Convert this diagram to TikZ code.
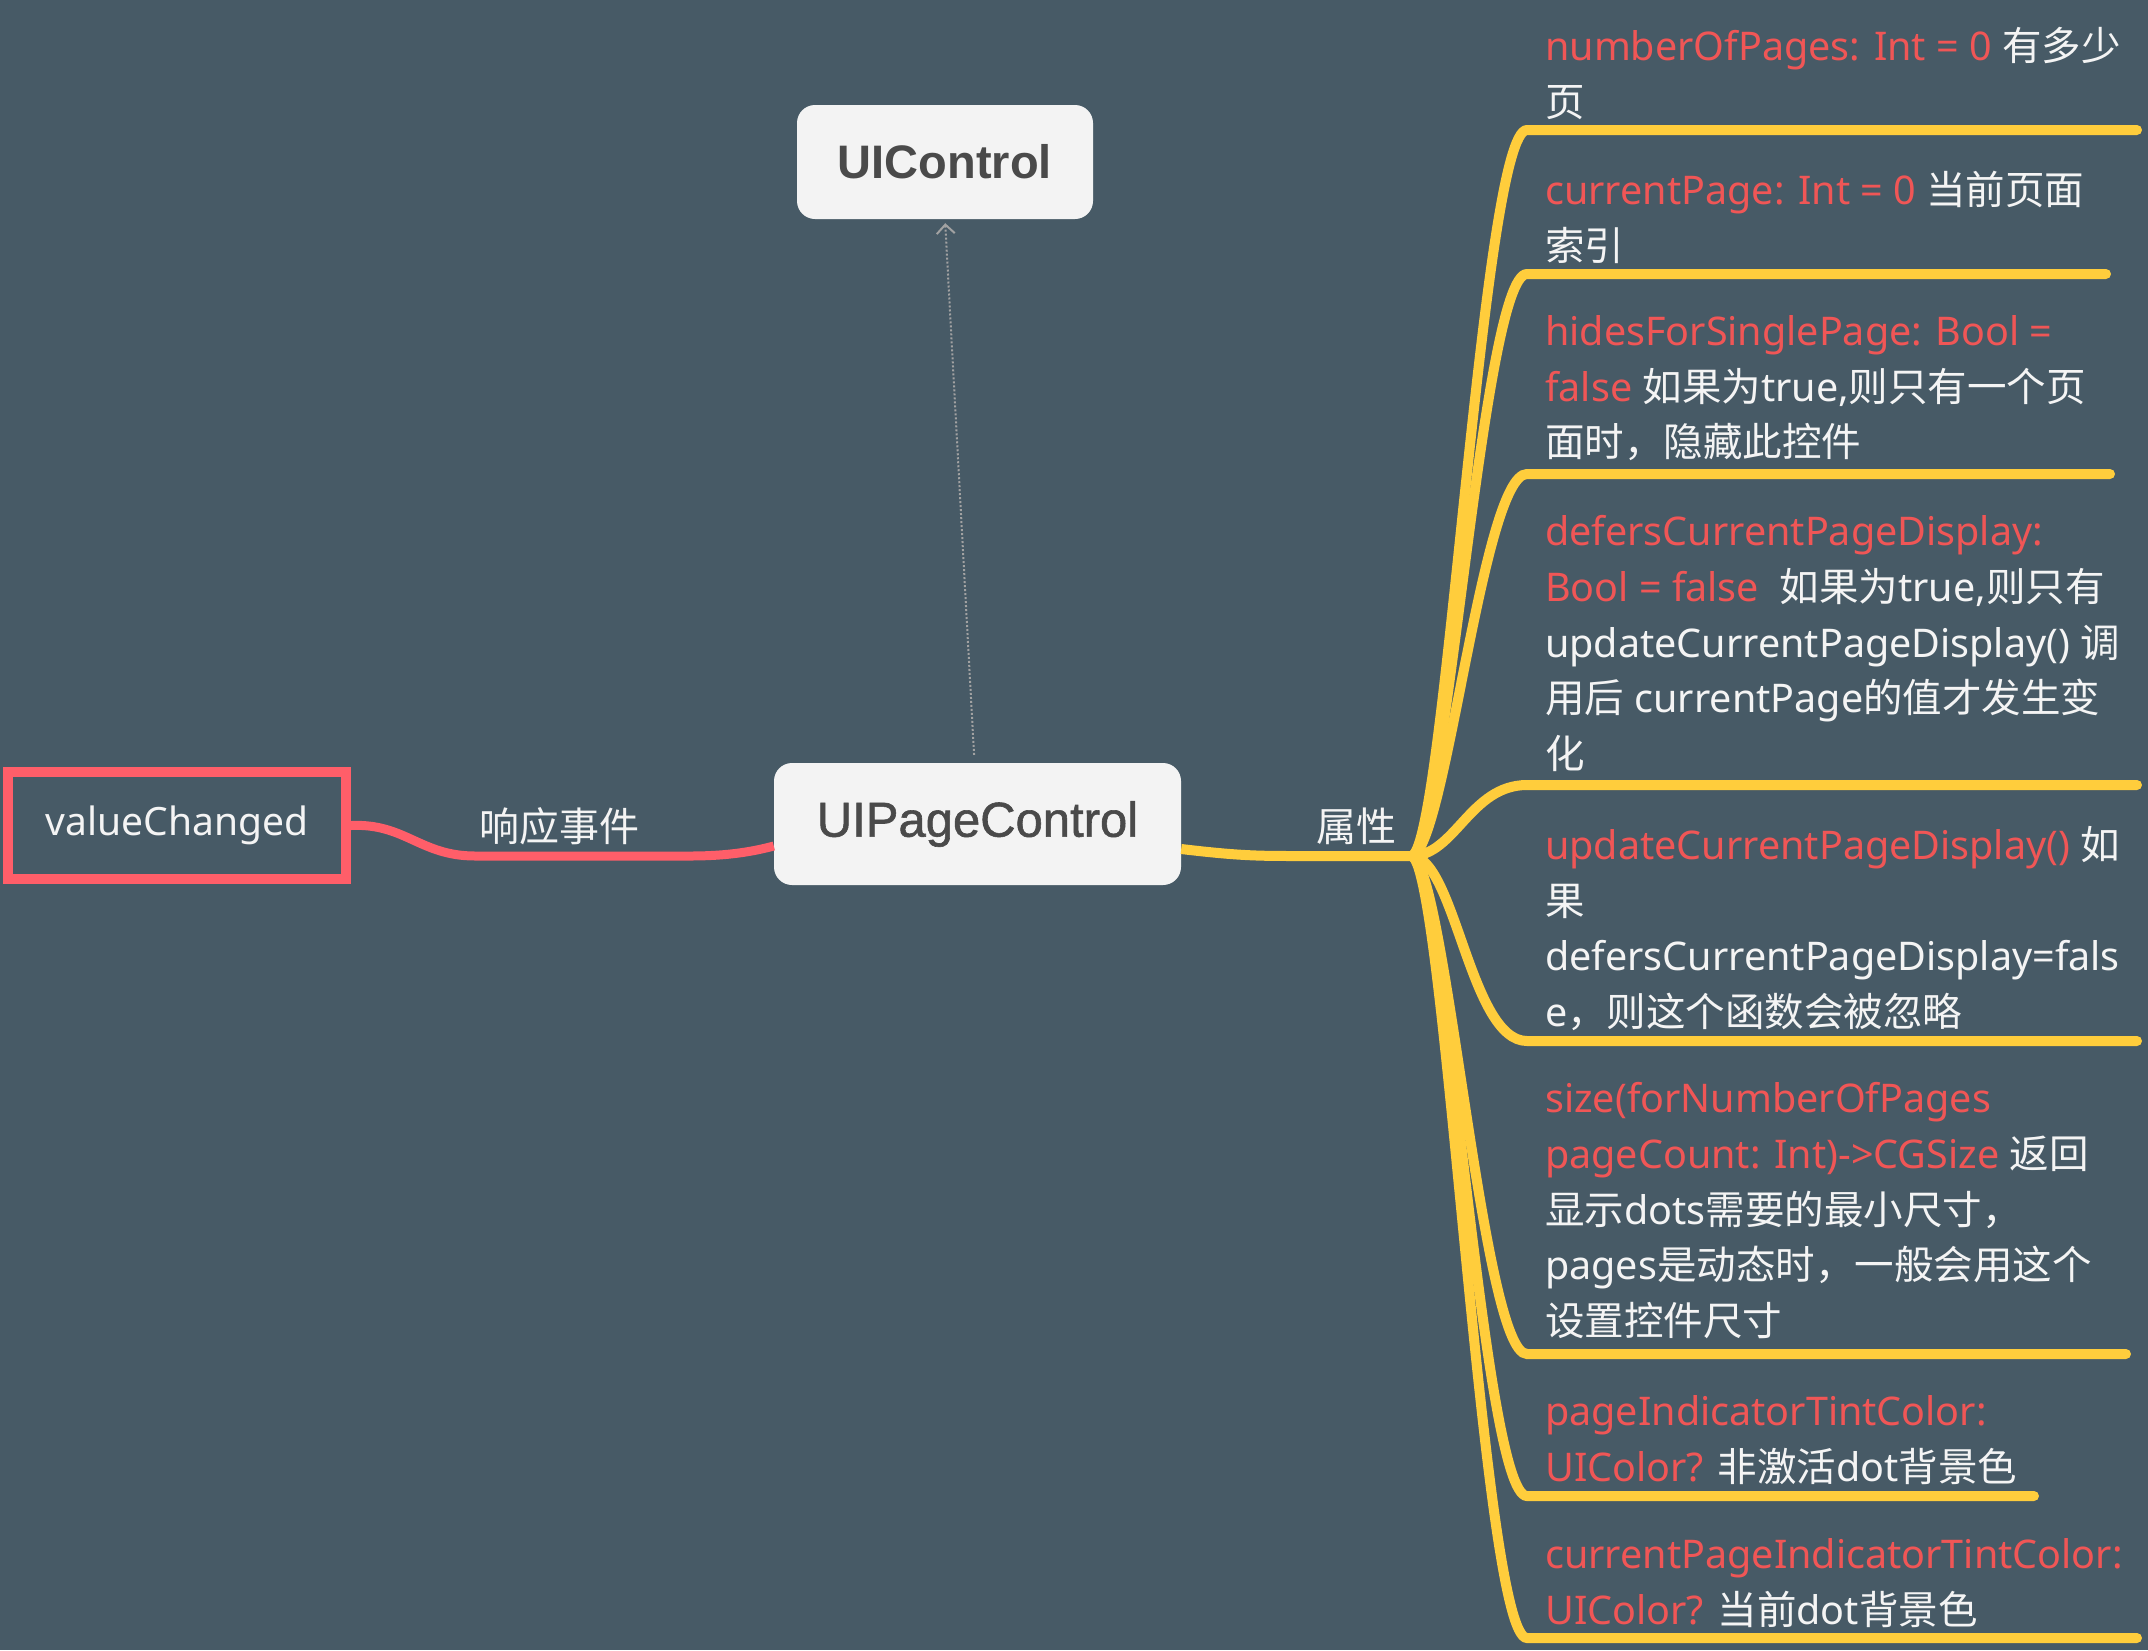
\documentclass[tikz,border=0pt]{standalone}
\usepackage{fontspec}
\setmainfont{Noto Sans}
\newfontfamily\latinfont{Noto Sans}
\newfontfamily\cjkfont{Noto Sans CJK SC}
\newfontfamily\boxfont{Liberation Sans}
\newfontfamily\boxmedfont[FakeBold=1.2]{Liberation Sans}
\usetikzlibrary{arrows.meta,positioning,calc}

% Chinese runs switch to the CJK font by themselves
\XeTeXinterchartokenstate=1
\newXeTeXintercharclass\cjkclass
\makeatletter
\count@="4E00
\loop\XeTeXcharclass\count@=\cjkclass\ifnum\count@<"9FFF\advance\count@ 1 \repeat
\count@="3000
\loop\XeTeXcharclass\count@=\cjkclass\ifnum\count@<"303F\advance\count@ 1 \repeat
\count@="FF00
\loop\XeTeXcharclass\count@=\cjkclass\ifnum\count@<"FFEF\advance\count@ 1 \repeat
\makeatother
\XeTeXinterchartoks 0 \cjkclass={\cjkfont}
\XeTeXinterchartoks 4095 \cjkclass={\cjkfont}
\XeTeXinterchartoks \cjkclass 0={\latinfont}
\XeTeXinterchartoks \cjkclass 4095={\latinfont}

\definecolor{bg}{HTML}{475A66}
\definecolor{mmred}{HTML}{F05656}
\definecolor{mmpink}{HTML}{FF5E69}
\definecolor{mmyellow}{HTML}{FFCD3C}
\definecolor{boxgray}{HTML}{F3F3F3}
\definecolor{boxtext}{HTML}{4A4A4A}
\definecolor{txtwhite}{HTML}{F4F4F4}
\definecolor{inhgray}{HTML}{A2A2A2}

\newcommand{\prop}[1]{\textcolor{mmred}{#1}}

\begin{document}
\begin{tikzpicture}[x=1pt,y=-1pt,
  topic/.style={rectangle,rounded corners=18pt,fill=boxgray,text=boxtext,inner sep=0pt},
  event/.style={rectangle,draw=mmpink,line width=10pt,text=txtwhite,inner sep=0pt,
                minimum width=338pt,minimum height=107pt,font=\fontsize{39}{44}\selectfont},
  item/.style={anchor=north west,align=left,inner sep=0pt,text=txtwhite,
               font=\fontsize{39.5}{55.8}\selectfont,execute at begin node=\strut},
  linklabel/.style={text=txtwhite,inner sep=0pt,font=\fontsize{40}{44}\selectfont},
  branch/.style={draw=mmyellow,line width=10pt,line cap=round},
  inherit/.style={draw=inhgray,line width=2pt,dash pattern=on 2pt off 2pt,
                  -{Straight Barb[length=9pt,width=18pt]}}]
  \tikzstyle{response} = [draw=mmpink,line width=9pt]

  \useasboundingbox (0,0) rectangle (2148,1650);
  \fill[bg] (0,0) rectangle (2148,1650);

    \node[topic,minimum width=296pt,minimum height=114pt,
          font=\boxfont\fontsize{47}{50}\selectfont\bfseries] (UIControl) at (945,162) {UIControl};
    \node[topic,minimum width=407pt,minimum height=122pt,
          font=\boxmedfont\fontsize{49}{52}\selectfont] (UIPageControl) at (977.5,824) {UIPageControl};
    \node[event] (valueChanged) at (177,825.5) {valueChanged};
    \node[linklabel] (respond) at (559,826) {响应事件};
    \node[linklabel] (attrs) at (1356,826) {属性};

    \coordinate (hub) at (1411,856);
    \coordinate (u1) at (1527,130);  \coordinate (e1) at (2137,130);
    \coordinate (u2) at (1527,274);  \coordinate (e2) at (2106,274);
    \coordinate (u3) at (1527,474);  \coordinate (e3) at (2110,474);
    \coordinate (u4) at (1527,785);  \coordinate (e4) at (2137,785);
    \coordinate (u5) at (1527,1041); \coordinate (e5) at (2137,1041);
    \coordinate (u6) at (1527,1354); \coordinate (e6) at (2126,1354);
    \coordinate (u7) at (1527,1496); \coordinate (e7) at (2034,1496);
    \coordinate (u8) at (1527,1638); \coordinate (e8) at (2137,1638);

    \node[item] (nPages) at (1545,27) {\prop{numberOfPages: Int = 0} 有多少\\页};
    \node[item] (curPage) at (1545,171) {\prop{currentPage: Int = 0} 当前页面\\索引};
    \node[item] (hides) at (1545,315) {\prop{hidesForSinglePage: Bool =}\\
      \prop{false} 如果为true,则只有一个页\\面时，隐藏此控件};
    \node[item] (defers) at (1545,515) {\prop{defersCurrentPageDisplay:}\\
      \prop{Bool = false}\ \ 如果为true,则只有\\updateCurrentPageDisplay() 调\\
      用后 currentPage的值才发生变\\化};
    \node[item] (update) at (1545,826) {\prop{updateCurrentPageDisplay()} 如\\果\\
      defersCurrentPageDisplay=fals\\e，则这个函数会被忽略};
    \node[item] (sizeFor) at (1545,1082) {\prop{size(forNumberOfPages}\\
      \prop{pageCount: Int)->CGSize} 返回\\显示dots需要的最小尺寸，\\
      pages是动态时，一般会用这个\\设置控件尺寸};
    \node[item] (tint) at (1545,1395) {\prop{pageIndicatorTintColor:}\\
      \prop{UIColor?} 非激活dot背景色};
    \node[item] (curTint) at (1545,1538) {\prop{currentPageIndicatorTintColor:}\\
      \prop{UIColor?} 当前dot背景色};

    \draw[inherit,shorten <=8pt,shorten >=4pt] ([xshift=-3pt]UIPageControl.north) -- (UIControl.south);
    \draw[response] (valueChanged.east) .. controls (405,823) and (420,856) .. (475,856)
      -- (690,856) .. controls (730,856) and (755,851) .. ($(UIPageControl.west)+(0,22)$);
    \draw[branch,line cap=butt] ($(UIPageControl.east)+(0,25)$) .. controls (1240,856) and (1260,856) .. (1300,856) -- (hub);

    \draw[branch] (hub) .. controls (1445,856) and (1482,130) .. (u1) -- (e1);
    \draw[branch] (hub) .. controls (1445,856) and (1482,274) .. (u2) -- (e2);
    \draw[branch] (hub) .. controls (1445,856) and (1482,474) .. (u3) -- (e3);
    \draw[branch] (hub) .. controls (1455,856) and (1470,785) .. (u4) -- (e4);
    \draw[branch] (hub) .. controls (1455,856) and (1470,1041) .. (u5) -- (e5);
    \draw[branch] (hub) .. controls (1445,856) and (1482,1354) .. (u6) -- (e6);
    \draw[branch] (hub) .. controls (1445,856) and (1482,1496) .. (u7) -- (e7);
    \draw[branch] (hub) .. controls (1445,856) and (1482,1638) .. (u8) -- (e8);

\end{tikzpicture}
\end{document}
